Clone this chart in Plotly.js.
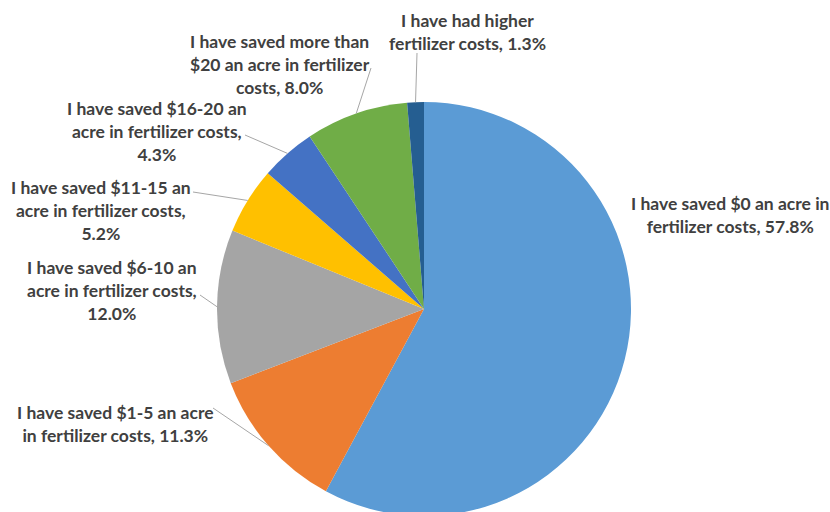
<!DOCTYPE html>
<html><head><meta charset="utf-8">
<script src="https://cdn.plot.ly/plotly-3.0.1.min.js"></script>
<style>html,body{margin:0;padding:0;overflow:hidden;background:#fff;width:830px;height:512px}</style>
</head><body><div id="chart"></div>
<script>
// ---- data ----
const categories = [
  "I have saved $0 an acre in fertilizer costs",
  "I have saved $1-5 an acre in fertilizer costs",
  "I have saved $6-10 an acre in fertilizer costs",
  "I have saved $11-15 an acre in fertilizer costs",
  "I have saved $16-20 an acre in fertilizer costs",
  "I have saved more than $20 an acre in fertilizer costs",
  "I have had higher fertilizer costs"
];
const values = [57.8, 11.3, 12.0, 5.2, 4.3, 8.0, 1.3];
const labelTexts = [
  "I have saved $0 an acre in<br>fertilizer costs, 57.8%",
  "I have saved $1-5 an acre<br>in fertilizer costs, 11.3%",
  "I have saved $6-10 an<br>acre in fertilizer costs,<br>12.0%",
  "I have saved $11-15 an<br>acre in fertilizer costs,<br>5.2%",
  "I have saved $16-20 an<br>acre in fertilizer costs,<br>4.3%",
  "I have saved more than<br>$20 an acre in fertilizer<br>costs, 8.0%",
  "I have had higher<br>fertilizer costs, 1.3%"
];
const colors = ["#5B9BD5","#ED7D31","#A5A5A5","#FFC000","#4472C4","#70AD47","#255E91"];

// ---- layout (pixels) ----
const W = 830, H = 530;
const CX = 424, CY = 309, R = 207;
const labelPos = [[730,215],[115,424],[112,290],[101,210],[157,131],[280,65],[467,32]];
const leaderStart = [null,[213,408],[200,295],[193,192],[245,135],[371,68],[417,53]];

const px = x => x / W;
const py = y => 1 - y / H;

const total = values.reduce((a,b)=>a+b,0);
let cum = 0;
const shapes = [];
const annotations = [];
values.forEach((v,i) => {
  const mid = (cum + v/2) / total;
  cum += v;
  const ang = mid * 2 * Math.PI;
  const ex = CX + R * Math.sin(ang), ey = CY - R * Math.cos(ang);
  if (leaderStart[i]) {
    shapes.push({type:'line', xref:'paper', yref:'paper',
      x0:px(leaderStart[i][0]), y0:py(leaderStart[i][1]), x1:px(ex), y1:py(ey),
      line:{color:'#A6A6A6', width:1}});
  }
  annotations.push({xref:'paper', yref:'paper', x:px(labelPos[i][0]), y:py(labelPos[i][1]),
    xanchor:'center', yanchor:'middle', align:'center', showarrow:false,
    text:labelTexts[i], font:{family:'Lato, sans-serif', size:17.5, color:'#404040', weight:700}});
});

const trace = {
  type:'pie', labels:categories, values:values, sort:false, direction:'clockwise', rotation:0,
  marker:{colors:colors, line:{color:'#ffffff', width:0}},
  textinfo:'none', hoverinfo:'none', showlegend:false,
  domain:{x:[(CX-R)/W,(CX+R)/W], y:[1-(CY+R)/H, 1-(CY-R)/H]}
};
Plotly.newPlot('chart',[trace],{
  width:W, height:H, margin:{l:0,r:0,t:0,b:0},
  paper_bgcolor:'#fff', shapes:shapes, annotations:annotations, showlegend:false
},{staticPlot:true});
</script></body></html>
